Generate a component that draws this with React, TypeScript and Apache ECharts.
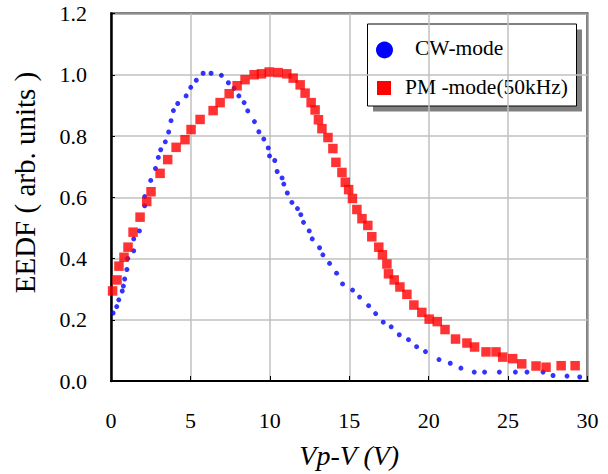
import React, { useEffect, useRef } from "react";
import * as echarts from "echarts";

const cwX = [0.13, 0.36, 0.49, 0.71, 0.78, 0.86, 1.0, 1.05, 1.43, 1.43, 1.79, 2.12, 2.12, 2.5, 2.8, 2.98, 3.13, 3.42, 3.63, 3.78, 3.93, 4.2, 4.73, 5.02, 5.37, 5.8, 6.3, 6.95, 7.39, 7.75, 8.05, 8.38, 8.61, 9.03, 9.31, 9.62, 9.9, 9.98, 10.31, 10.46, 10.77, 10.88, 11.1, 11.39, 11.74, 11.95, 12.12, 12.48, 12.67, 13.13, 13.34, 13.76, 14.2, 14.58, 15.21, 15.65, 16.22, 16.66, 17.14, 17.64, 18.15, 18.73, 19.24, 19.8, 20.65, 21.36, 22.03, 22.87, 23.52, 24.45, 25.46, 26.19, 27.2, 27.83, 28.71, 29.51];
const cwY = [0.222, 0.243, 0.265, 0.294, 0.31, 0.333, 0.364, 0.4, 0.425, 0.464, 0.49, 0.572, 0.602, 0.655, 0.694, 0.73, 0.755, 0.781, 0.813, 0.85, 0.883, 0.906, 0.931, 0.959, 0.982, 1.005, 1.005, 0.998, 0.974, 0.956, 0.931, 0.909, 0.882, 0.847, 0.814, 0.79, 0.761, 0.735, 0.72, 0.684, 0.663, 0.643, 0.614, 0.583, 0.563, 0.543, 0.518, 0.49, 0.464, 0.435, 0.412, 0.384, 0.352, 0.317, 0.297, 0.274, 0.246, 0.22, 0.192, 0.177, 0.151, 0.135, 0.112, 0.096, 0.07, 0.058, 0.042, 0.029, 0.029, 0.029, 0.029, 0.029, 0.029, 0.018, 0.016, 0.013];

const pmX = [0.1, 0.38, 0.5, 0.82, 1.07, 1.39, 1.83, 2.25, 2.52, 3.09, 3.57, 4.1, 4.66, 5.04, 5.61, 6.43, 6.87, 7.44, 7.94, 8.44, 9.01, 9.47, 9.96, 10.52, 11.07, 11.47, 11.91, 12.22, 12.6, 12.85, 13.06, 13.28, 13.66, 13.97, 14.16, 14.54, 14.75, 14.96, 15.2, 15.48, 15.8, 16.17, 16.42, 16.86, 17.09, 17.37, 17.47, 17.83, 18.19, 18.63, 19.07, 19.57, 20.03, 20.54, 21.03, 21.69, 22.41, 22.89, 23.61, 24.24, 24.66, 25.29, 25.86, 26.76, 27.39, 28.34, 29.22];
const pmY = [0.294, 0.33, 0.375, 0.404, 0.437, 0.486, 0.535, 0.586, 0.618, 0.678, 0.723, 0.763, 0.788, 0.821, 0.854, 0.883, 0.909, 0.938, 0.964, 0.984, 1.0, 1.003, 1.009, 1.007, 1.003, 0.989, 0.967, 0.94, 0.909, 0.885, 0.853, 0.824, 0.795, 0.759, 0.714, 0.681, 0.649, 0.625, 0.596, 0.56, 0.53, 0.508, 0.471, 0.437, 0.412, 0.382, 0.35, 0.33, 0.307, 0.283, 0.248, 0.224, 0.202, 0.194, 0.168, 0.137, 0.124, 0.111, 0.095, 0.095, 0.078, 0.073, 0.056, 0.049, 0.045, 0.05, 0.05];

const seriesNames = ["CW-mode", "PM -mode(50kHz)"];
const xAxisTitle = "Vp-V (V)";
const yAxisTitle = "EEDF ( arb. units )";

const SERIF = "'Liberation Serif', 'Times New Roman', serif";

export default function App() {
  const ref = useRef<HTMLDivElement>(null);
  useEffect(() => {
    if (!ref.current) return;
    const chart = echarts.init(ref.current, undefined, { renderer: "svg" });
    const cwData = cwX.map((x, i) => [x, cwY[i]]);
    const pmData = pmX.map((x, i) => [x, pmY[i]]);
    chart.setOption({
      animation: false,
      backgroundColor: "#ffffff",
      grid: {
        left: 111,
        top: 13.5,
        right: 20.5,
        bottom: 92,
        show: true,
        borderColor: "#000",
        borderWidth: 2,
        backgroundColor: "transparent",
      },
      xAxis: {
        type: "value",
        min: 0,
        max: 30,
        interval: 5,
        name: xAxisTitle,
        nameLocation: "middle",
        nameGap: 60,
        nameTextStyle: { fontFamily: SERIF, fontStyle: "italic", fontSize: 28, color: "#000" },
        axisLine: { show: true, lineStyle: { color: "#000", width: 2 } },
        axisTick: { show: true, inside: true, length: 5, lineStyle: { color: "#000", width: 1 } },
        axisLabel: { fontFamily: SERIF, fontSize: 22, color: "#000", margin: 28 },
        splitLine: { show: true, lineStyle: { color: "#c0c0c0", width: 1.5 } },
      },
      yAxis: {
        type: "value",
        min: 0,
        max: 1.2,
        interval: 0.2,
        axisLine: { show: true, lineStyle: { color: "#000", width: 2.5 } },
        axisTick: { show: true, inside: true, length: 4, lineStyle: { color: "#000", width: 1 } },
        axisLabel: {
          fontFamily: SERIF,
          fontSize: 22,
          color: "#000",
          margin: 24,
          formatter: (v: number) => v.toFixed(1),
        },
        splitLine: { show: true, lineStyle: { color: "#c0c0c0", width: 1.5 } },
      },
      series: [
        {
          name: seriesNames[0],
          type: "scatter",
          data: cwData,
          symbol: "circle",
          symbolSize: 5,
          itemStyle: { color: "#0000ff" },
        },
        {
          name: seriesNames[1],
          type: "scatter",
          data: pmData,
          symbol: "rect",
          symbolSize: 9.5,
          itemStyle: { color: "#ff0000" },
        },
      ],
      graphic: [
        {
          type: "text",
          x: 25,
          y: 182.5,
          rotation: Math.PI / 2,
          style: {
            text: yAxisTitle,
            fontFamily: SERIF,
            fontSize: 29,
            fill: "#000",
            align: "center",
            verticalAlign: "middle",
          },
        },
        {
          type: "rect",
          shape: { x: 373, y: 29.5, width: 209, height: 82 },
          style: { fill: "#808080" },
        },
        {
          type: "rect",
          shape: { x: 367.5, y: 24, width: 209, height: 82 },
          style: { fill: "#fff", stroke: "#000", lineWidth: 1 },
        },
        {
          type: "circle",
          shape: { cx: 384.5, cy: 50, r: 8.5 },
          style: { fill: "#0000ff" },
        },
        {
          type: "rect",
          shape: { x: 377, y: 81, width: 14, height: 14 },
          style: { fill: "#ff0000" },
        },
        {
          type: "text",
          x: 415,
          y: 48,
          style: {
            text: seriesNames[0],
            fontFamily: SERIF,
            fontSize: 21.5,
            fill: "#000",
            verticalAlign: "middle",
          },
        },
        {
          type: "text",
          x: 405,
          y: 87,
          style: {
            text: seriesNames[1],
            fontFamily: SERIF,
            fontSize: 21.5,
            fill: "#000",
            verticalAlign: "middle",
          },
        },
      ],
    });
    return () => chart.dispose();
  }, []);
  return (
    <div
      ref={ref}
      style={{ position: "absolute", left: 0, top: 0, width: 608, height: 474, background: "#fff" }}
    />
  );
}
